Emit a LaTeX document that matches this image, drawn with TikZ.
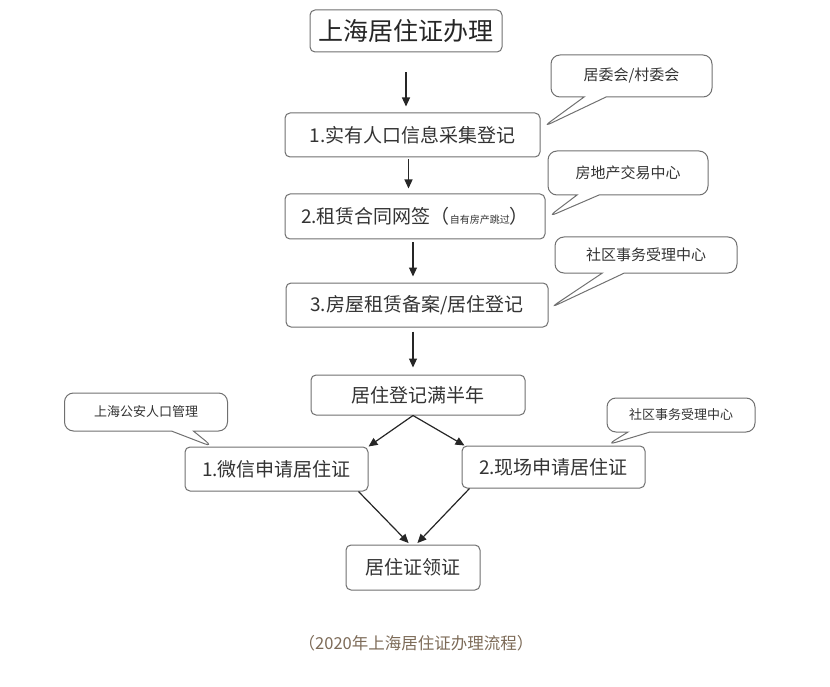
\documentclass[tikz,border=0pt]{standalone}
\usepackage{fontspec}
\setmainfont{Noto Sans CJK SC}
\usetikzlibrary{positioning,arrows.meta,shapes.callouts}
\definecolor{linegray}{HTML}{707070}
\definecolor{textgray}{HTML}{333333}
\definecolor{capbrown}{HTML}{7D6B58}

\begin{document}
\begin{tikzpicture}[x=1pt, y=-1pt,
  every node/.style={text=textgray},
  box/.style={
    rectangle, rounded corners=5pt, draw=linegray, line width=1pt, fill=white,
    inner sep=0pt, font=\fontsize{19}{21}\selectfont
  },
  note/.style={
    rectangle callout, rounded corners=9pt, draw=linegray, line width=1pt,
    callout pointer width=22pt, inner sep=0pt, font=\fontsize{15}{17}\selectfont
  },
  arrow/.style={-{Triangle[length=9pt, width=8pt]}, line width=1.2pt, black!85}
]
\useasboundingbox (0,0) rectangle (830,687);

% main steps
\node[box, minimum width=192pt, minimum height=42pt, font=\fontsize{25}{28}\selectfont, text=black!85] (title) at (406,31) {上海居住证办理};
\node[box, minimum width=255pt, minimum height=44pt] (b1) at (412.5,135) {1.实有人口信息采集登记};
\node[box, minimum width=260pt, minimum height=45pt] (b2) at (415,216.5) {2.租赁合同网签（{\fontsize{10}{12}\selectfont 自有房产跳过}）};
\node[box, minimum width=262pt, minimum height=44pt] (b3) at (417,305) {3.房屋租赁备案/居住登记};
\node[box, minimum width=214pt, minimum height=40pt] (b4) at (418,395) {居住登记满半年};
\node[box, minimum width=183pt, minimum height=44pt] (b5) at (276.5,469) {1.微信申请居住证};
\node[box, minimum width=183pt, minimum height=42pt] (b6) at (553.5,467) {2.现场申请居住证};
\node[box, minimum width=134pt, minimum height=45pt] (b7) at (413,567.5) {居住证领证};

% callouts
\coordinate (p1) at (543,127);
\coordinate (p2) at (548,217);
\coordinate (p3) at (550,308);
\coordinate (p4) at (213,447);
\coordinate (p5) at (607,445);
\node[note, minimum width=161pt, minimum height=42pt, callout absolute pointer={(p1)}] (n1) at (631.5,76) {居委会/村委会};
\node[note, minimum width=160pt, minimum height=44pt, callout absolute pointer={(p2)}] (n2) at (628,173) {房地产交易中心};
\node[note, minimum width=182pt, minimum height=36pt, callout absolute pointer={(p3)}] (n3) at (646,255) {社区事务受理中心};
\node[note, minimum width=163pt, minimum height=38pt, font=\fontsize{13}{15}\selectfont, callout absolute pointer={(p4)}] (n4) at (146,412) {上海公安人口管理};
\node[note, minimum width=148pt, minimum height=34pt, font=\fontsize{13}{15}\selectfont, callout absolute pointer={(p5)}] (n5) at (681,415) {社区事务受理中心};

\draw[arrow, shorten <=20pt, shorten >=6pt] (title.south) -- (title.south |- b1.north);
\draw[arrow, shorten <=2pt, shorten >=5pt] ([xshift=-4pt]b1.south) -- ([xshift=-4pt]b1.south |- b2.north);
\draw[arrow, shorten <=3pt, shorten >=6pt] ([xshift=-2pt]b2.south) -- ([xshift=-2pt]b2.south |- b3.north);
\draw[arrow, shorten <=4pt, shorten >=7pt] ([xshift=-4pt]b3.south) -- ([xshift=-4pt]b3.south |- b4.north);
\draw[arrow] ([xshift=-5pt]b4.south) -- (b5.north east);
\draw[arrow] ([xshift=-5pt]b4.south) -- ([xshift=3pt]b6.north west);
\draw[arrow, shorten >=2pt] ([xshift=-10pt]b5.south east) -- ([xshift=-3pt]b7.north);
\draw[arrow, shorten >=2pt] ([xshift=8pt]b6.south west) -- ([xshift=3pt]b7.north);

\node[font=\fontsize{16.5}{18}\selectfont, text=capbrown] (cap) at (416,643) {（2020年上海居住证办理流程）};
\end{tikzpicture}
\end{document}
